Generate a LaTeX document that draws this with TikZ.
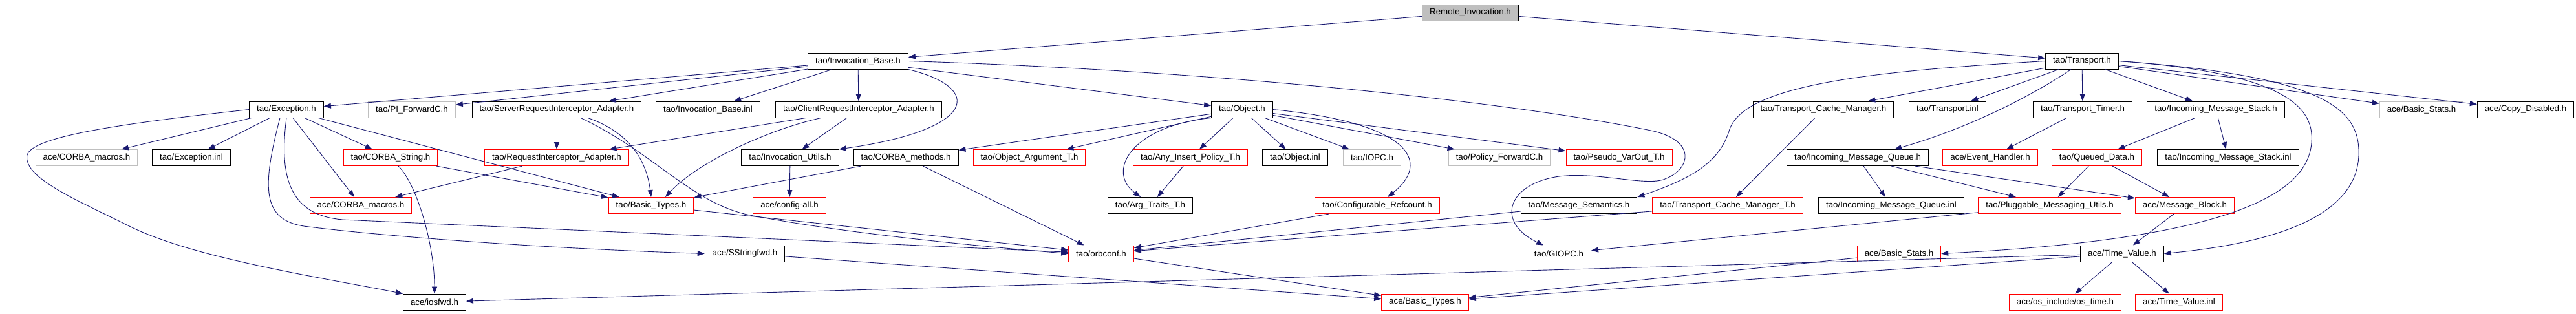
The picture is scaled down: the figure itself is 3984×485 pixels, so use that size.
\documentclass[tikz,border=0pt]{standalone}
\usepackage{fontspec}
\setmainfont{Liberation Sans}
\usetikzlibrary{arrows.meta}
\definecolor{edgeblue}{RGB}{25,25,112}
\definecolor{rootgray}{RGB}{191,191,191}
\definecolor{undocgray}{RGB}{191,191,191}

\begin{document}
\begin{tikzpicture}[x=1pt, y=-1pt,
		file/.style={draw=black, rectangle, line width=1pt, minimum height=25pt, inner xsep=11.5pt, inner ysep=0pt, font=\fontsize{13.3}{15}\selectfont},
		root/.style={file, fill=rootgray},
		trunc/.style={file, draw=red},
		undoc/.style={file, draw=undocgray},
		dep/.style={draw=edgeblue, line width=0.9pt, -{Triangle[length=11pt, width=8pt]}}]
		\useasboundingbox (0,0) rectangle (3984,485);
		% row 1 and 2
		\node [root] (RI) at (2274, 19.5) {Remote\_Invocation.h};
		\node [file] (IB) at (1327, 94.5) {tao/Invocation\_Base.h};
		\node [file] (TR) at (3220, 94.5) {tao/Transport.h};
		% row 3
		\node [file] (EX) at (443, 169.5) {tao/Exception.h};
		\node [undoc] (PF) at (637, 169.5) {tao/PI\_ForwardC.h};
		\node [file] (SRA) at (861, 169.5) {tao/ServerRequestInterceptor\_Adapter.h};
		\node [file] (IBI) at (1095, 169.5) {tao/Invocation\_Base.inl};
		\node [file] (CRA) at (1328, 169.5) {tao/ClientRequestInterceptor\_Adapter.h};
		\node [file] (OB) at (1921, 169.5) {tao/Object.h};
		\node [file] (TCM) at (2820, 169.5) {tao/Transport\_Cache\_Manager.h};
		\node [file] (TI) at (3012, 169.5) {tao/Transport.inl};
		\node [file] (TT) at (3221, 169.5) {tao/Transport\_Timer.h};
		\node [file] (IMS) at (3427, 169.5) {tao/Incoming\_Message\_Stack.h};
		\node [undoc] (BSG) at (3745, 169.5) {ace/Basic\_Stats.h};
		\node [file] (CD) at (3906, 169.5) {ace/Copy\_Disabled.h};
		% row 4
		\node [undoc] (CMG) at (134, 244) {ace/CORBA\_macros.h};
		\node [file] (EI) at (296, 244) {tao/Exception.inl};
		\node [trunc] (CS) at (604, 244) {tao/CORBA\_String.h};
		\node [trunc] (RIA) at (861, 244) {tao/RequestInterceptor\_Adapter.h};
		\node [file] (IU) at (1222, 244) {tao/Invocation\_Utils.h};
		\node [file] (CM) at (1401, 244) {tao/CORBA\_methods.h};
		\node [trunc] (OA) at (1592, 244) {tao/Object\_Argument\_T.h};
		\node [trunc] (AI) at (1841, 244) {tao/Any\_Insert\_Policy\_T.h};
		\node [file] (OI) at (2003, 244) {tao/Object.inl};
		\node [undoc] (IOP) at (2122, 244) {tao/IOPC.h};
		\node [undoc] (PFW) at (2319, 244) {tao/Policy\_ForwardC.h};
		\node [trunc] (PV) at (2504, 244) {tao/Pseudo\_VarOut\_T.h};
		\node [file] (IMQ) at (2873, 244) {tao/Incoming\_Message\_Queue.h};
		\node [trunc] (EH) at (3078, 244) {ace/Event\_Handler.h};
		\node [trunc] (QD) at (3243, 244) {tao/Queued\_Data.h};
		\node [file] (IMSI) at (3446, 244) {tao/Incoming\_Message\_Stack.inl};
		% row 5
		\node [trunc] (CMR) at (558, 318) {ace/CORBA\_macros.h};
		\node [trunc] (BT) at (1007, 318) {tao/Basic\_Types.h};
		\node [trunc] (CA) at (1221, 318) {ace/config-all.h};
		\node [file] (AT) at (1779, 318) {tao/Arg\_Traits\_T.h};
		\node [trunc] (CR) at (2130, 318) {tao/Configurable\_Refcount.h};
		\node [file] (MS) at (2442, 318) {tao/Message\_Semantics.h};
		\node [trunc] (TCT) at (2672, 318) {tao/Transport\_Cache\_Manager\_T.h};
		\node [file] (IMQI) at (2925, 318) {tao/Incoming\_Message\_Queue.inl};
		\node [trunc] (PMU) at (3170, 318) {tao/Pluggable\_Messaging\_Utils.h};
		\node [trunc] (MB) at (3379, 318) {ace/Message\_Block.h};
		% row 6 and 7
		\node [file] (SS) at (1152, 392.5) {ace/SStringfwd.h};
		\node [trunc] (OC) at (1703, 392.5) {tao/orbconf.h};
		\node [undoc] (GI) at (2411, 392.5) {tao/GIOPC.h};
		\node [trunc] (BSR) at (2937, 392.5) {ace/Basic\_Stats.h};
		\node [file] (TV) at (3282, 392.5) {ace/Time\_Value.h};
		\node [file] (IO) at (672, 467.5) {ace/iosfwd.h};
		\node [trunc] (ABT) at (2204, 467.5) {ace/Basic\_Types.h};
		\node [trunc] (OT) at (3194, 467.5) {ace/os\_include/os\_time.h};
		\node [trunc] (TVI) at (3370, 467.5) {ace/Time\_Value.inl};

		\draw [dep] (RI) -- (IB);
		\draw [dep] (RI) -- (TR);

		\draw [dep] (IB) -- (EX);
		\draw [dep] (IB) -- (PF);
		\draw [dep] (IB) -- (SRA);
		\draw [dep] (IB) -- (IBI);
		\draw [dep] (IB) -- (CRA);
		\draw [dep] (IB) -- (OB);
		\draw [dep] (IB.south east) .. controls (1520,135) and (1515,200) .. (IU.north east);
		\draw [dep] (IB.east) .. controls (1900,110) and (2350,160) .. (2553,202) .. controls (2625,217) and (2615,262) .. (2575,277) .. controls (2545,290) and (2460,262) .. (2400,275) .. controls (2330,290) and (2315,345) .. ([xshift=-24]GI.north);

		\draw [dep] (EX) -- (CMG);
		\draw [dep] (EX) -- (EI);
		\draw [dep] (EX) -- (CS);
		\draw [dep] (EX) -- (CMR);
		\draw [dep] (EX) -- (BT);
		\draw [dep] (EX.south) .. controls (432,270) and (445,333) .. (530,340) -- (OC);
		\draw [dep] ([xshift=-10]EX.south) .. controls (405,290) and (405,340) .. (470,350) .. controls (560,362) and (800,383) .. (SS.west);
		\draw [dep] (EX.west) .. controls (200,190) and (50,210) .. (42,240) .. controls (35,275) and (120,310) .. (200,350) .. controls (300,400) and (500,430) .. (IO.north west);

		\draw [dep] (SRA) -- (RIA);
		\draw [dep] ([xshift=48]SRA.south) .. controls (975,205) and (1000,250) .. (BT.north);
		\draw [dep] ([xshift=37]SRA.south) .. controls (1010,235) and (1070,315) .. (1160,333) .. controls (1300,360) and (1500,380) .. (OC.west);
		\draw [dep] (CRA) -- (RIA);
		\draw [dep] ([xshift=-58]CRA.south) .. controls (1190,200) and (1080,250) .. ([xshift=22]BT.north);
		\draw [dep] (CRA) -- (IU);

		\draw [dep] (OB) -- (CM);
		\draw [dep] (OB) -- (OA);
		\draw [dep] (OB.south west) .. controls (1750,195) and (1710,265) .. ([xshift=-15]AT.north);
		\draw [dep] (OB) -- (AI);
		\draw [dep] (OB) -- (OI);
		\draw [dep] (OB) -- (IOP);
		\draw [dep] (OB) -- (PFW);
		\draw [dep] (OB) -- (PV);
		\draw [dep] (OB.east) .. controls (2180,190) and (2215,250) .. ([xshift=16]CR.north);

		\draw [dep] (TR) -- (TCM);
		\draw [dep] (TR) -- (TI);
		\draw [dep] (TR) -- (TT);
		\draw [dep] ([xshift=-17]TR.south) .. controls (3140,150) and (3040,200) .. ([xshift=57]IMQ.north);
		\draw [dep] (TR) -- (IMS);
		\draw [dep] (TR) -- (BSG);
		\draw [dep] (TR) -- (CD);
		\draw [dep] (TR.west) .. controls (2900,110) and (2700,130) .. (2675,200) .. controls (2660,250) and (2620,275) .. (MS.north east);
		\draw [dep] (TR.east) .. controls (3520,112) and (3580,160) .. (3575,220) .. controls (3570,300) and (3450,370) .. (BSR.east);
		\draw [dep] (TR.east) .. controls (3600,118) and (3650,170) .. (3648,240) .. controls (3645,330) and (3530,375) .. (TV.east);

		\draw [dep] (CS) -- (BT);
		\draw [dep] ([xshift=12]CS.south) .. controls (645,285) and (672,380) .. (IO.north);
		\draw [dep] (RIA) -- (CMR);
		\draw [dep] (IU) -- (CA);
		\draw [dep] (CM) -- (BT);
		\draw [dep] (CM) -- (OC);
		\draw [dep] (AI) -- (AT);
		\draw [dep] (BT) -- (OC);
		\draw [dep] (CR) -- (OC);
		\draw [dep] (MS) -- (OC);
		\draw [dep] (TCT) -- (OC);

		\draw [dep] (OC) -- (ABT);
		\draw [dep] (SS) -- (ABT);
		\draw [dep] (BSR) -- (ABT);
		\draw [dep] (TV) -- (ABT);
		\draw [dep] (TV) -- (IO);

		\draw [dep] (TCM) -- (TCT);
		\draw [dep] (TT) -- (EH);
		\draw [dep] (IMS) -- (QD);
		\draw [dep] (IMS) -- (IMSI);
		\draw [dep] (IMQ) -- (IMQI);
		\draw [dep] (IMQ) -- (PMU);
		\draw [dep] (IMQ) -- (MB);
		\draw [dep] (QD) -- (PMU);
		\draw [dep] (QD) -- (MB);
		\draw [dep] (PMU) -- (GI);
		\draw [dep] (MB) -- (TV);
		\draw [dep] (TV) -- (OT);
		\draw [dep] (TV) -- (TVI);
\end{tikzpicture}
\end{document}
